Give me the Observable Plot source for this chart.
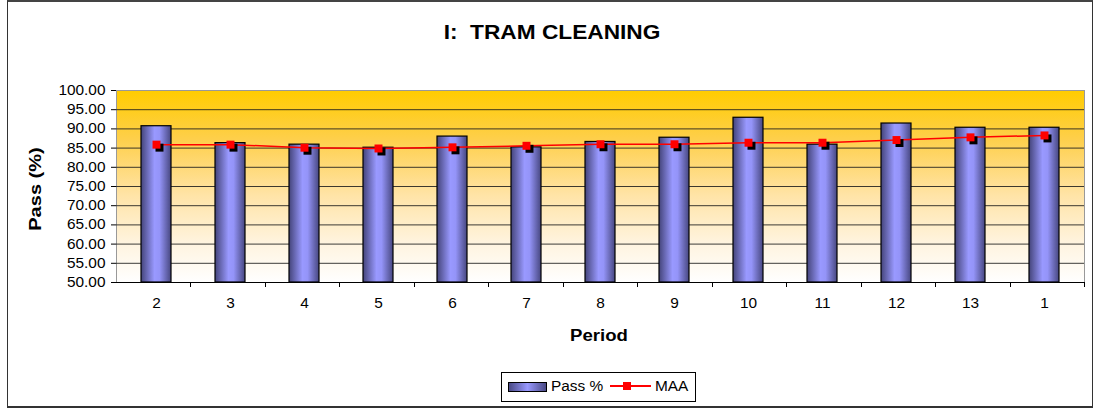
<!DOCTYPE html>
<html><head><meta charset="utf-8">
<script src="https://cdn.jsdelivr.net/npm/d3@7"></script>
<script src="https://cdn.jsdelivr.net/npm/@observablehq/plot@0.6"></script>
<style>
body{margin:0;background:#fff;font-family:"Liberation Sans",Arial,sans-serif;}
#wrap{position:relative;width:1096px;height:409px;overflow:hidden;}
#frame{position:absolute;left:7px;top:0;width:1086px;height:408px;border:1px solid #333;border-top:2px solid #444;border-bottom:2px solid #333;box-sizing:border-box;}
#title{position:absolute;left:552px;top:32px;transform:translate(-50%,-50%) scaleX(1.08);font-size:21px;font-weight:bold;white-space:pre;color:#000;}
#chart{position:absolute;left:0;top:0;}
#ylabel{position:absolute;left:36px;top:189px;transform:translate(-50%,-50%) rotate(-90deg) scaleX(1.18);font-size:17px;font-weight:bold;white-space:nowrap;}
#xlabel{position:absolute;left:599px;top:336px;transform:translate(-50%,-50%) scaleX(1.16);font-size:16px;font-weight:bold;}
#legend{position:absolute;left:501px;top:372px;width:195px;height:30px;border:1px solid #000;box-sizing:border-box;font-size:14px;}
#legend .sw{position:absolute;left:6px;top:9px;width:37px;height:8px;border:1px solid #000;background:linear-gradient(to right,#4a4a85,#9999ff 50%,#4a4a85);}
#legend .t1{position:absolute;left:49px;top:5px;transform:scaleX(1.1);transform-origin:left center;}
#legend .ln{position:absolute;left:108px;top:12px;width:41px;height:1.5px;background:#ff0000;}
#legend .sq{position:absolute;left:121px;top:9px;width:8px;height:8px;background:#ff0000;}
#legend .t2{position:absolute;left:153px;top:5px;transform:scaleX(1.1);transform-origin:left center;}
</style></head><body>
<div id="wrap">
 <div id="frame"></div>
 <div id="title">I:  TRAM CLEANING</div>
 <div id="chart"></div>
 <div id="ylabel">Pass (%)</div>
 <div id="xlabel">Period</div>
 <div id="legend"><div class="sw"></div><div class="t1">Pass %</div><div class="ln"></div><div class="sq"></div><div class="t2">MAA</div></div>
</div>
<script>
const periods = ["2","3","4","5","6","7","8","9","10","11","12","13","1"];
const passPct = [90.7, 86.3, 85.9, 85.1, 88.0, 85.2, 86.6, 87.7, 92.9, 85.9, 91.4, 90.3, 90.3];
const maa = [85.9, 85.9, 85.1, 84.9, 85.2, 85.6, 86.0, 86.0, 86.4, 86.4, 87.1, 87.8, 88.3];
const yTicks = [50,55,60,65,70,75,80,85,90,95,100];

const data = periods.map((p, i) => ({period: p, pass: passPct[i], maa: maa[i]}));
const svgNS = "http://www.w3.org/2000/svg";

function defsMark() {
  const g = document.createElementNS(svgNS, "g");
  g.innerHTML = `<defs>
    <linearGradient id="bgGrad" x1="0" y1="0" x2="0" y2="1">
      <stop offset="0%" stop-color="#ffcc00"/>
      <stop offset="25%" stop-color="#fecf4a"/>
      <stop offset="55%" stop-color="#ffe4a8"/>
      <stop offset="80%" stop-color="#fff4e0"/>
      <stop offset="100%" stop-color="#ffffff"/>
    </linearGradient>
    <linearGradient id="barGrad" x1="0" y1="0" x2="1" y2="0">
      <stop offset="0%" stop-color="#44447a"/>
      <stop offset="45%" stop-color="#9999ff"/>
      <stop offset="62%" stop-color="#9494f8"/>
      <stop offset="100%" stop-color="#474780"/>
    </linearGradient>
  </defs>`;
  return g;
}

function xTickMark(index, scales, values, dims) {
  const g = document.createElementNS(svgNS, "g");
  const x0 = dims.marginLeft, x1 = dims.width - dims.marginRight;
  const yb = dims.height - dims.marginBottom;
  const step = (x1 - x0) / periods.length;
  for (let i = 1; i <= periods.length; i++) {
    const l = document.createElementNS(svgNS, "line");
    const xx = Math.round(x0 + i * step) + 0.5;
    l.setAttribute("x1", xx); l.setAttribute("x2", xx);
    l.setAttribute("y1", yb); l.setAttribute("y2", yb + 5);
    l.setAttribute("stroke", "#000");
    g.appendChild(l);
  }
  return g;
}

const chart = Plot.plot({
  width: 1096,
  height: 350,
  marginLeft: 116,
  marginRight: 12,
  marginTop: 90,
  marginBottom: 68,
  style: {fontFamily: "'Liberation Sans', Arial, sans-serif", fontSize: "14px", background: "transparent", color: "#000"},
  x: {domain: periods, paddingInner: 0.6, paddingOuter: 0.3, tickSize: 0, tickPadding: 16, label: null},
  y: {domain: [50, 100], ticks: yTicks, tickFormat: d3.format(".2f"), tickSize: 5, tickPadding: 6, label: null},
  marks: [
    defsMark,
    Plot.frame({fill: "url(#bgGrad)", stroke: "#999"}),
    Plot.ruleY(yTicks.filter(t => t > 50 && t < 100), {stroke: "#1a1a1a", strokeOpacity: 0.85}),
    Plot.barY(data, {x: "period", y1: 50, y2: "pass", fill: "url(#barGrad)", stroke: "#000", strokeWidth: 1.2}),
    Plot.line(data, {x: "period", y: "maa", stroke: "#ff0000", strokeWidth: 1.5}),
    Plot.dot(data, {x: "period", y: "maa", symbol: "square", r: 4.5, fill: "#000", stroke: "none", dx: 3, dy: 3}),
    Plot.dot(data, {x: "period", y: "maa", symbol: "square", r: 4.5, fill: "#ff0000", stroke: "none"}),
    Plot.ruleX([0], {frameAnchor: "left", stroke: "#000"}),
    Plot.ruleY([50], {stroke: "#000"}),
    xTickMark
  ]
});
document.getElementById("chart").appendChild(chart);
// stretch axis tick labels horizontally around their anchor, like the reference rendering
chart.querySelectorAll("text").forEach(t => {
  const bb = t.getBBox();
  const anchor = getComputedStyle(t).textAnchor;
  const px = anchor === "end" ? bb.x + bb.width : anchor === "middle" ? bb.x + bb.width / 2 : bb.x;
  const tr = t.getAttribute("transform") || "";
  t.setAttribute("transform", `${tr} translate(${px},0) scale(1.1,1) translate(${-px},0)`.trim());
});
</script>
</body></html>
